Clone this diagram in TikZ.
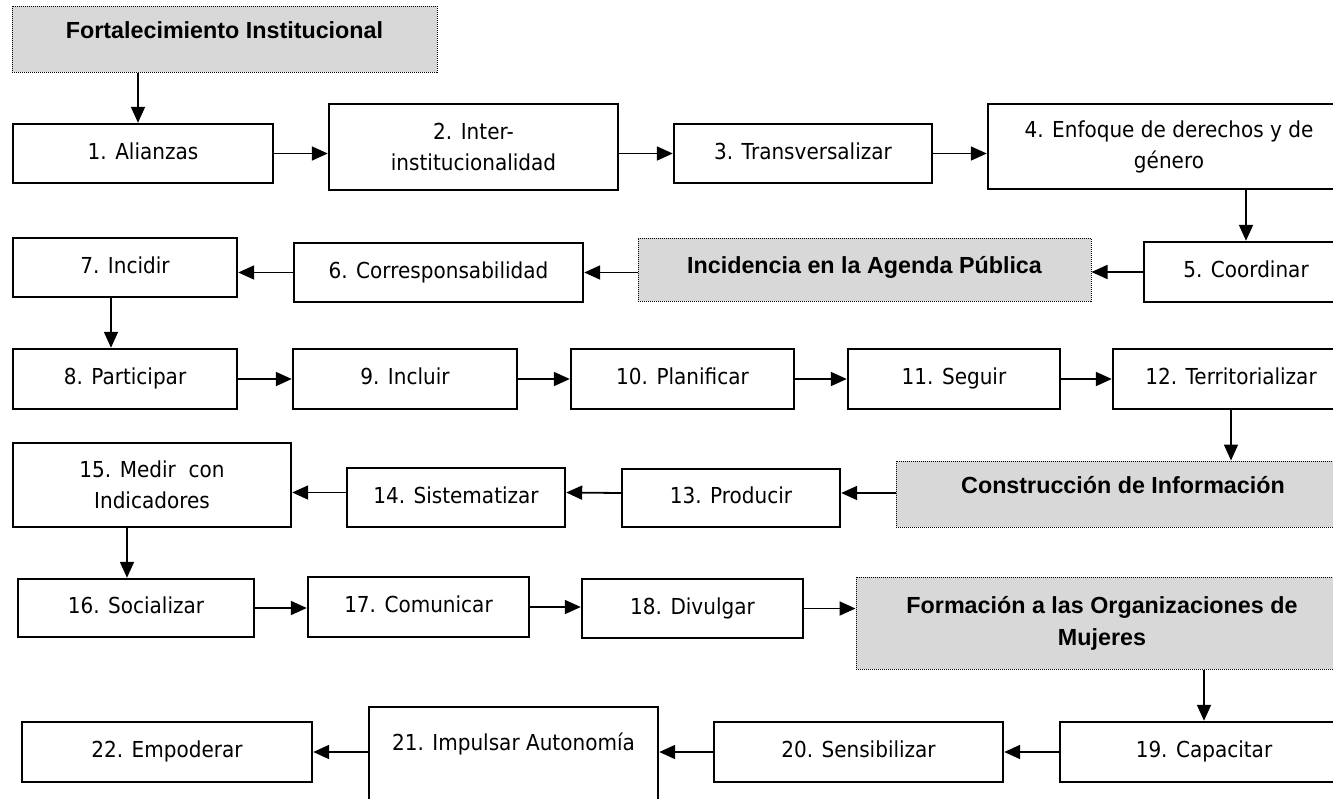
\documentclass[tikz,border=0pt]{standalone}
\usepackage{fontspec}
\setmainfont{DejaVu Sans}[FakeStretch=0.91]
\newfontfamily\ejefont{Liberation Sans}
\usetikzlibrary{arrows.meta,calc}
\definecolor{grisclaro}{RGB}{216,216,216}

\begin{document}
\begin{tikzpicture}[x=1pt,y=-1pt,
  caja/.style={draw, line width=2.4pt, inner sep=2pt, align=center, font=\fontsize{22}{31}\selectfont},
  paso/.style={caja, text height=16pt, text depth=5pt},
  eje/.style={draw, dash pattern=on 1pt off 1pt, line width=1pt, fill=grisclaro, inner sep=2pt, align=center, font=\ejefont\bfseries\fontsize{23.3}{32}\selectfont},
  flecha/.style={-{Triangle[length=16pt,width=14pt]}, line width=1.8pt}]
\useasboundingbox (0,0) rectangle (1333,798);
% filas de pasos
\node[eje, minimum width=425pt, minimum height=66pt, text height=16.7pt, text depth=18pt] (fort) at (224.5,39) {Fortalecimiento Institucional};
\node[paso, minimum width=260pt, minimum height=59pt] (b1) at (143,153.5) {1. Alianzas};
\node[caja, minimum width=289pt, minimum height=86pt] (b2) at (473.5,147) {2. Inter-\\institucionalidad};
\node[paso, minimum width=258pt, minimum height=59pt] (b3) at (803,153.5) {3. Transversalizar};
\node[caja, minimum width=362pt, minimum height=85pt] (b4) at (1169,146.5) {4. Enfoque de derechos y de\\género};
\node[paso, minimum width=204pt, minimum height=60pt] (b5) at (1246,272) {5. Coordinar};
\node[eje, minimum width=453pt, minimum height=63pt, text height=16.7pt, text depth=9pt] (agenda) at (864.5,269.5) {Incidencia en la Agenda Pública};
\node[paso, minimum width=289pt, minimum height=59pt] (b6) at (438.5,272.5) {6. Corresponsabilidad};
\node[paso, minimum width=224pt, minimum height=59pt] (b7) at (125,267.5) {7. Incidir};
\node[paso, minimum width=224pt, minimum height=60pt] (b8) at (125,379) {8. Participar};
\node[paso, minimum width=224pt, minimum height=60pt] (b9) at (405,379) {9. Incluir};
\node[paso, minimum width=223pt, minimum height=60pt] (b10) at (682.5,379) {10. Planificar};
\node[paso, minimum width=212pt, minimum height=60pt] (b11) at (954,379) {11. Seguir};
\node[paso, minimum width=236pt, minimum height=60pt] (b12) at (1231,379) {12. Territorializar};
\node[eje, minimum width=454pt, minimum height=66pt, text height=16.7pt, text depth=18pt] (constr) at (1123,494) {Construcción de Información};
\node[paso, minimum width=218pt, minimum height=58pt] (b13) at (731,498) {13. Producir};
\node[paso, minimum width=218pt, minimum height=59pt] (b14) at (456,497.5) {14. Sistematizar};
\node[caja, minimum width=278pt, minimum height=84pt] (b15) at (152,485) {15. Medir\ \ con\\Indicadores};
\node[paso, minimum width=236pt, minimum height=58pt] (b16) at (136,608) {16. Socializar};
\node[paso, minimum width=221pt, minimum height=60pt] (b17) at (418.5,607) {17. Comunicar};
\node[paso, minimum width=221pt, minimum height=59pt] (b18) at (692.5,608.5) {18. Divulgar};
\node[eje, minimum width=492pt, minimum height=92pt] (form) at (1102,623) {Formación a las Organizaciones de\\Mujeres};
\node[paso, minimum width=288pt, minimum height=60pt] (b19) at (1204,752) {19. Capacitar};
\node[paso, minimum width=289pt, minimum height=60pt] (b20) at (858.5,752) {20. Sensibilizar};
\node[paso, minimum width=289pt, minimum height=143pt, text height=16pt, text depth=73pt] (b21) at (513.5,778.5) {21. Impulsar Autonomía};
\node[paso, minimum width=290pt, minimum height=60pt] (b22) at (167,752) {22. Empoderar};
% flechas
\draw[flecha] ([xshift=-5pt]b1.north |- fort.south) -- ([xshift=-5pt]b1.north);
\draw[flecha] (b1.east) -- (b1.east -| b2.west);
\draw[flecha] (b2.east |- b3.west) -- (b3.west);
\draw[flecha] (b3.east) -- (b3.east -| b4.west);
\draw[flecha] (b4.south -| b5.north) -- (b5.north);
\draw[flecha] (b5.west) -- (b5.west -| agenda.east);
\draw[flecha] (b6.east -| agenda.west) -- (b6.east);
\draw[flecha] (b6.west) -- (b6.west -| b7.east);
\draw[flecha] ([xshift=-14pt]b7.south) -- ([xshift=-14pt]b8.north);
\draw[flecha] (b8.east) -- (b9.west);
\draw[flecha] (b9.east) -- (b10.west);
\draw[flecha] (b10.east) -- (b11.west);
\draw[flecha] (b11.east) -- (b12.west);
\draw[flecha] (b12.south) -- (b12.south |- constr.north);
\draw[flecha] ([yshift=5pt]b13.east -| constr.west) -- ([yshift=5pt]b13.east);
\draw[flecha] ([yshift=5pt]b13.west) -- ([yshift=5pt]b14.east);
\draw[flecha] ([yshift=5pt]b14.west) -- ([yshift=5pt]b14.west -| b15.east);
\draw[flecha] ([xshift=-9pt]b16.north |- b15.south) -- ([xshift=-9pt]b16.north);
\draw[flecha] (b16.east) -- (b16.east -| b17.west);
\draw[flecha] (b17.east) -- (b17.east -| b18.west);
\draw[flecha] (b18.east) -- (b18.east -| form.west);
\draw[flecha] (form.south -| b19.north) -- (b19.north);
\draw[flecha] (b19.west) -- (b20.east);
\draw[flecha] (b20.west) -- (b20.west -| b21.east);
\draw[flecha] (b22.east -| b21.west) -- (b22.east);
\end{tikzpicture}
\end{document}
